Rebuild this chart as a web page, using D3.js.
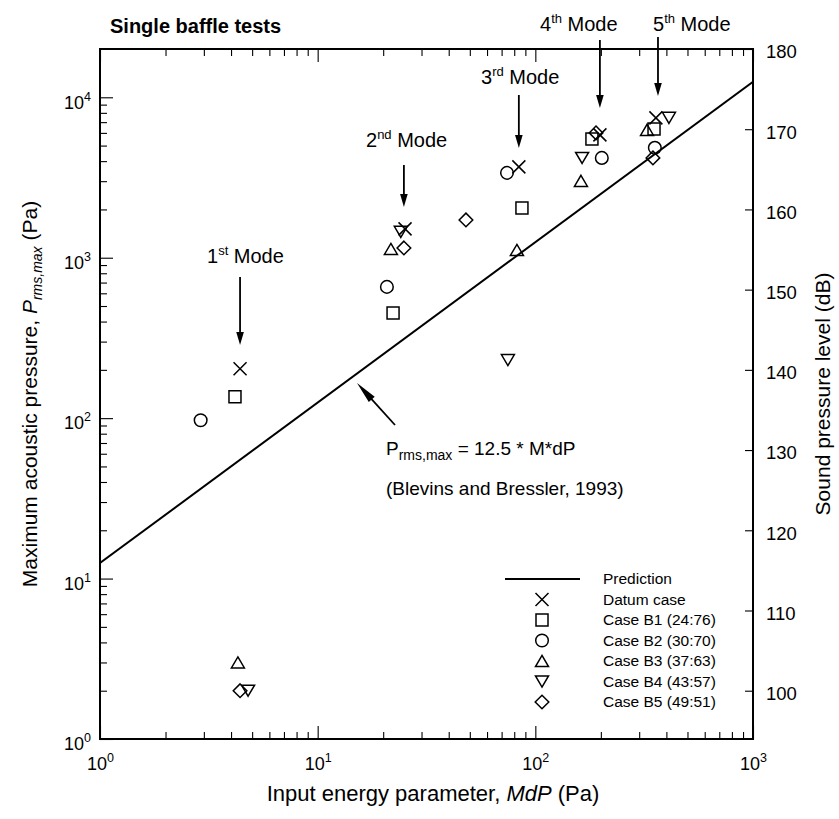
<!DOCTYPE html>
<html><head><meta charset="utf-8">
<script src="https://cdn.jsdelivr.net/npm/d3@7"></script>
<style>
html,body{margin:0;padding:0;background:#fff;}
svg{display:block;}
text{font-family:"Liberation Sans",Arial,Helvetica,sans-serif;fill:#000;}
</style></head><body>
<svg id="chart" width="839" height="819"></svg>
<script>
// ---------------- data ----------------
const legendLabels = ["Prediction","Datum case","Case B1 (24:76)","Case B2 (30:70)","Case B3 (37:63)","Case B4 (43:57)","Case B5 (49:51)"];
const datumMdP = [4.4, 25.2, 84.0, 198, 358];
const datumP   = [203, 1513, 3683, 5830, 7440];
const b1MdP = [4.17, 22.2, 86.8, 182, 351];
const b1P   = [136, 453, 2043, 5505, 6350];
const b2MdP = [2.9, 20.8, 74.1, 202, 354];
const b2P   = [97, 658, 3380, 4190, 4840];
const b3MdP = [4.3, 21.7, 82.3, 162, 326];
const b3P   = [3.0, 1135, 1119, 3013, 6265];
const b4MdP = [4.79, 24.1, 74.8, 164, 411];
const b4P   = [2.0, 1449, 230, 4190, 7440];
const b5MdP = [4.4, 24.9, 48.0, 190, 347];
const b5P   = [2.0, 1150, 1720, 6000, 4190];
const predMdP = [1, 1000];
const predP   = [12.5, 12500];
const modeNums = ["1","2","3","4","5"];
const modeSups = ["st","nd","rd","th","th"];
const modeMdP  = [4.4, 24.9, 84, 198, 366];
const xTickValues = [1, 10, 100, 1000];
const yTickValues = [1, 10, 100, 1000, 10000];
const splTickValues = [100, 110, 120, 130, 140, 150, 160, 170, 180];
const xDomain = [1, 1000];
const yDomain = [1, 20000];
const pRef = 2e-5;

// ---------------- layout ----------------
const L = 100, R = 753, T = 49, B = 739;
const svg = d3.select("#chart");
const x = d3.scaleLog().domain(xDomain).range([L, R]);
const y = d3.scaleLog().domain(yDomain).range([B, T]);
const spl = d3.scaleLinear()
  .domain([20*Math.log10(yDomain[0]/pRef), 20*Math.log10(yDomain[1]/pRef)])
  .range([B, T]);

const isPow10 = v => Math.abs(Math.log10(v) - Math.round(Math.log10(v))) < 1e-9;
const xMinor = x.ticks().filter(v => !isPow10(v));
const yMinor = y.ticks().filter(v => !isPow10(v) && v < yDomain[1]);

function supLabels(sel, anchor) {
  sel.selectAll(".tick text").each(function(d){
    const t = d3.select(this);
    t.text(null).attr("font-size", 18).attr("text-anchor", anchor);
    t.append("tspan").text("10");
    t.append("tspan").attr("font-size", 12.5).attr("dy", -8).text(Math.round(Math.log10(d)));
  });
}
function styleAxis(g) {
  g.select(".domain").remove();
  g.selectAll(".tick line").attr("stroke", "#000").attr("stroke-width", 1.1);
}

// bottom
const gB = svg.append("g").attr("transform", `translate(0,${B})`)
  .call(d3.axisBottom(x).tickValues(xTickValues).tickSize(-13).tickPadding(0));
styleAxis(gB); supLabels(gB, "middle");
gB.selectAll(".tick text").attr("y", 31).attr("dy", 0);
svg.append("g").attr("transform", `translate(0,${B})`)
  .call(d3.axisBottom(x).tickValues(xMinor).tickSize(-7).tickFormat(""))
  .call(styleAxis);
// top
svg.append("g").attr("transform", `translate(0,${T})`)
  .call(d3.axisTop(x).tickValues(xTickValues).tickSize(-13).tickFormat(""))
  .call(styleAxis);
svg.append("g").attr("transform", `translate(0,${T})`)
  .call(d3.axisTop(x).tickValues(xMinor).tickSize(-7).tickFormat(""))
  .call(styleAxis);
// left
const gL = svg.append("g").attr("transform", `translate(${L},0)`)
  .call(d3.axisLeft(y).tickValues(yTickValues).tickSize(-13).tickPadding(9));
styleAxis(gL); supLabels(gL, "end");
gL.selectAll(".tick text").attr("y", 5).attr("dy", "0.32em").attr("x", -9);
svg.append("g").attr("transform", `translate(${L},0)`)
  .call(d3.axisLeft(y).tickValues(yMinor).tickSize(-7).tickFormat(""))
  .call(styleAxis);
// right (SPL)
const gR = svg.append("g").attr("transform", `translate(${R},0)`)
  .call(d3.axisRight(spl).tickValues(splTickValues).tickSize(-8).tickPadding(13).tickFormat(d3.format("d")));
styleAxis(gR);
gR.selectAll(".tick text").attr("font-size", 18.5).attr("x", 13).attr("y", 3).attr("dy", "0.32em");

// frame
svg.append("rect").attr("x", L).attr("y", T).attr("width", R-L).attr("height", B-T)
  .attr("fill", "none").attr("stroke", "#000").attr("stroke-width", 2);

// clip for the prediction line
svg.append("clipPath").attr("id", "plotclip").append("rect")
  .attr("x", L).attr("y", T).attr("width", R-L).attr("height", B-T);

// prediction line
const predData = predMdP.map((v,i)=>[v, predP[i]]);
svg.append("path").datum(predData)
  .attr("clip-path", "url(#plotclip)")
  .attr("d", d3.line().x(d=>x(d[0])).y(d=>y(d[1])))
  .attr("fill", "none").attr("stroke", "#000").attr("stroke-width", 2);

// ---------------- symbols ----------------
const symX = {draw(c, s){ c.moveTo(-s,-s); c.lineTo(s,s); c.moveTo(s,-s); c.lineTo(-s,s); }};
const symSq = {draw(c, s){ c.rect(-s,-s,2*s,2*s); }};
const symCi = {draw(c, s){ c.moveTo(s,0); c.arc(0,0,s,0,2*Math.PI); }};
const symTu = {draw(c, s){ c.moveTo(0,-s*0.85); c.lineTo(s,s*0.85); c.lineTo(-s,s*0.85); c.closePath(); }};
const symTd = {draw(c, s){ c.moveTo(0,s*0.85); c.lineTo(s,-s*0.85); c.lineTo(-s,-s*0.85); c.closePath(); }};
const symDi = {draw(c, s){ c.moveTo(0,-s); c.lineTo(s,0); c.lineTo(0,s); c.lineTo(-s,0); c.closePath(); }};

const series = [
  {xs: datumMdP, ys: datumP, type: symX, size: 6.5},
  {xs: b1MdP, ys: b1P, type: symSq, size: 6},
  {xs: b2MdP, ys: b2P, type: symCi, size: 6.3},
  {xs: b3MdP, ys: b3P, type: symTu, size: 6.5},
  {xs: b4MdP, ys: b4P, type: symTd, size: 6.5},
  {xs: b5MdP, ys: b5P, type: symDi, size: 6.8}
];
series.forEach(s => {
  const pts = s.xs.map((v,i)=>[v, s.ys[i]]);
  svg.append("g").selectAll("path").data(pts).join("path")
    .attr("transform", d=>`translate(${x(d[0])},${y(d[1])})`)
    .attr("d", d3.symbol().type(s.type).size(s.size))
    .attr("fill", "none").attr("stroke", "#000").attr("stroke-width", 1.5);
});

// ---------------- legend ----------------
const legX = 542, legY0 = 579, legDy = 20.5, legTextX = 603;
const gLeg = svg.append("g");
legendLabels.forEach((lab, i) => {
  const yy = legY0 + i*legDy;
  if (i === 0) {
    gLeg.append("line").attr("x1", 505).attr("x2", 580).attr("y1", yy).attr("y2", yy)
      .attr("stroke", "#000").attr("stroke-width", 2);
  } else {
    const s = series[i-1];
    gLeg.append("path").attr("transform", `translate(${legX},${yy})`)
      .attr("d", d3.symbol().type(s.type).size(s.size))
      .attr("fill", "none").attr("stroke", "#000").attr("stroke-width", 1.5);
  }
  gLeg.append("text").attr("x", legTextX).attr("y", yy).attr("dy", "0.35em")
    .attr("font-size", 15.5).text(lab);
});

// ---------------- mode arrows ----------------
const modeArrowTop = [277, 165, 95, 40, 37];
const modeArrowTip = [345, 207, 148, 108, 96];
const modeTextX = [207, 366, 481, 540, 653];
const modeTextY = [263, 147, 84, 31, 31];
function vArrow(xp, y1, y2) {
  svg.append("line").attr("x1", xp).attr("x2", xp).attr("y1", y1).attr("y2", y2-10)
    .attr("stroke", "#000").attr("stroke-width", 1.8);
  svg.append("path").attr("d", `M${xp},${y2} L${xp-3.8},${y2-13} L${xp+3.8},${y2-13} Z`).attr("fill", "#000");
}
modeNums.forEach((n, i) => {
  const xp = x(modeMdP[i]);
  vArrow(xp, modeArrowTop[i], modeArrowTip[i]);
  const t = svg.append("text").attr("x", modeTextX[i]).attr("y", modeTextY[i]).attr("font-size", 20);
  t.append("tspan").text(n);
  t.append("tspan").attr("font-size", 13).attr("dy", -8).text(modeSups[i]);
  t.append("tspan").attr("dy", 8).text(" Mode");
});

// ---------------- annotation ----------------
const tip = [357, 383], tail = [395, 425];
{
  const dx = tail[0]-tip[0], dy = tail[1]-tip[1], len = Math.hypot(dx,dy);
  const ux = dx/len, uy = dy/len, nx = -uy, ny = ux, hl = 22, hw = 4;
  const bx = tip[0]+hl*ux, by = tip[1]+hl*uy;
  svg.append("line").attr("x1", bx-2*ux).attr("y1", by-2*uy).attr("x2", tail[0]).attr("y2", tail[1])
    .attr("stroke", "#000").attr("stroke-width", 1.8);
  svg.append("path").attr("d", `M${tip[0]},${tip[1]} L${bx+hw*nx},${by+hw*ny} L${bx-hw*nx},${by-hw*ny} Z`).attr("fill", "#000");
}
const eq = svg.append("text").attr("x", 386).attr("y", 455).attr("font-size", 19);
eq.append("tspan").text("P");
eq.append("tspan").attr("font-size", 14).attr("dy", 5).text("rms,max");
eq.append("tspan").attr("dy", -5).text(" = 12.5 * M*dP");
svg.append("text").attr("x", 386).attr("y", 495).attr("font-size", 19).text("(Blevins and Bressler, 1993)");

// ---------------- titles ----------------
svg.append("text").attr("x", 110).attr("y", 33).attr("font-size", 20).attr("font-weight", "bold")
  .text("Single baffle tests");
svg.append("text").attr("x", 433).attr("y", 801).attr("font-size", 22).attr("text-anchor", "middle")
  .call(t => {
    t.append("tspan").text("Input energy parameter, ");
    t.append("tspan").attr("font-style", "italic").text("MdP");
    t.append("tspan").text(" (Pa)");
  });
svg.append("text").attr("transform", `translate(37,${(T+B)/2}) rotate(-90)`).attr("font-size", 21)
  .attr("text-anchor", "middle")
  .call(t => {
    t.append("tspan").text("Maximum acoustic pressure, ");
    t.append("tspan").attr("font-style", "italic").text("P");
    t.append("tspan").attr("font-style", "italic").attr("font-size", 14).attr("dy", 5).text("rms,max");
    t.append("tspan").attr("dy", -5).text("  (Pa)");
  });
svg.append("text").attr("transform", `translate(830,${(T+B)/2}) rotate(-90)`).attr("font-size", 21)
  .attr("text-anchor", "middle").text("Sound pressure level (dB)");
</script>
</body></html>
